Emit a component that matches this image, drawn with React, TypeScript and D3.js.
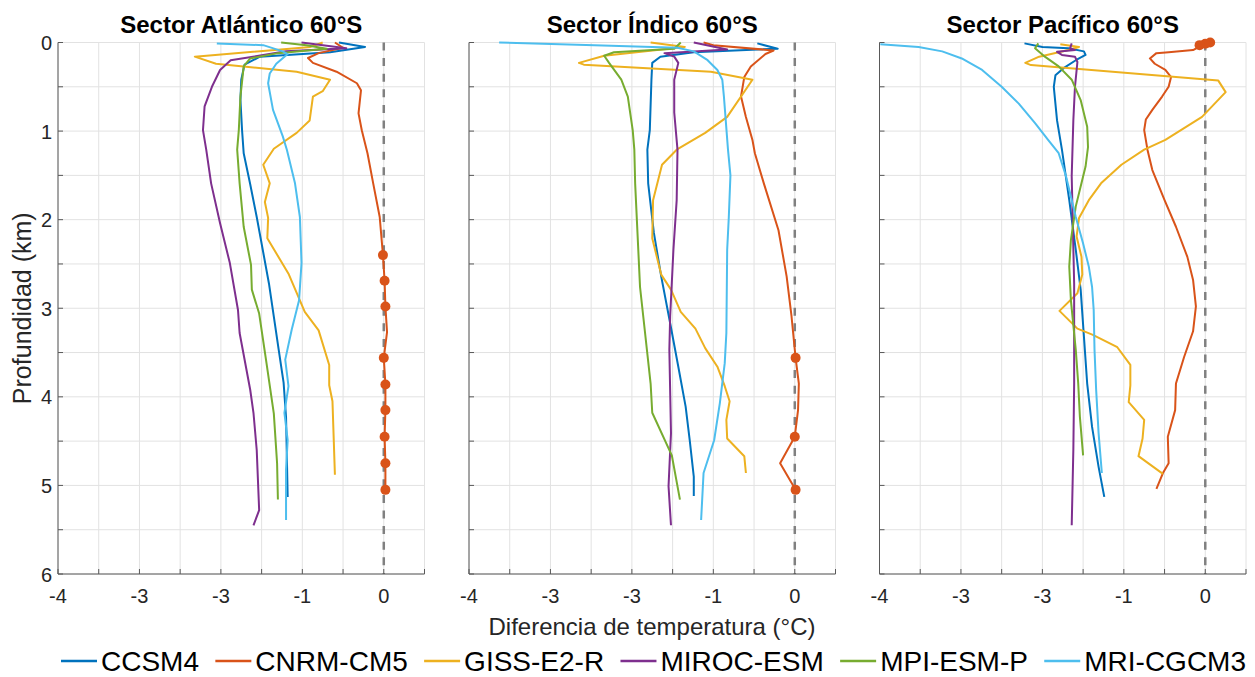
import { useEffect, useRef } from 'react';
import * as d3 from 'd3';

// [depth km, temperature difference °C]
type Pt = [number, number];

const modelNames = ['CCSM4', 'CNRM-CM5', 'GISS-E2-R', 'MIROC-ESM', 'MPI-ESM-P', 'MRI-CGCM3'];
const modelColors = ['#0072BD', '#D95319', '#EDB120', '#7E2F8E', '#77AC30', '#4DBEEE'];
const panelTitles = ['Sector Atlántico 60°S', 'Sector Índico 60°S', 'Sector Pacífico 60°S'];
const xTickValues = [-4, -3, -2, -1, 0];
const xTickLabels = ['-4', '-3', '-3', '-1', '0'];
const yTickValues = [0, 1, 2, 3, 4, 5, 6];

// Atlántico
const atlCCSM4: Pt[] = [[0, -0.55], [0.05, -0.23], [0.11, -0.66], [0.16, -1.52], [0.25, -1.71], [0.42, -1.75], [0.65, -1.76], [0.99, -1.74], [1.25, -1.72], [1.6, -1.64], [1.97, -1.56], [2.72, -1.41], [3.47, -1.29], [3.84, -1.23], [4.23, -1.2], [5.13, -1.18]];
const atlCNRM: Pt[] = [[0, -0.6], [0.06, -0.5], [0.12, -0.8], [0.175, -0.93], [0.23, -0.87], [0.33, -0.58], [0.46, -0.33], [0.54, -0.28], [0.8, -0.31], [0.99, -0.27], [1.25, -0.2], [1.59, -0.13], [1.97, -0.05], [2.4, -0.01], [2.69, 0.01], [2.98, 0.02], [3.27, 0.04], [3.56, 0.0], [3.86, 0.02], [4.15, 0.02], [4.45, 0.01], [4.75, 0.02], [5.05, 0.02]];
const atlGISS: Pt[] = [[0, -0.75], [0.05, -0.9], [0.16, -2.32], [0.24, -2.06], [0.33, -1.07], [0.42, -0.66], [0.55, -0.75], [0.61, -0.87], [0.88, -0.91], [1.02, -1.07], [1.2, -1.35], [1.38, -1.48], [1.59, -1.4], [1.8, -1.46], [1.98, -1.42], [2.21, -1.43], [2.61, -1.17], [3.04, -0.97], [3.25, -0.8], [3.64, -0.67], [3.87, -0.67], [4.05, -0.63], [4.88, -0.6]];
const atlMIROC: Pt[] = [[0, -1.01], [0.065, -0.46], [0.1, -1.2], [0.2, -1.88], [0.31, -2.01], [0.5, -2.11], [0.72, -2.2], [0.99, -2.22], [1.21, -2.18], [1.59, -2.12], [2.04, -2.01], [2.49, -1.89], [3.02, -1.79], [3.28, -1.77], [3.92, -1.64], [4.18, -1.6], [4.6, -1.56], [5.28, -1.53], [5.45, -1.6]];
const atlMPI: Pt[] = [[0, -1.26], [0.03, -0.95], [0.07, -0.7], [0.12, -1.3], [0.18, -1.64], [0.27, -1.72], [0.61, -1.76], [0.99, -1.78], [1.21, -1.8], [1.59, -1.77], [2.08, -1.72], [2.51, -1.63], [2.79, -1.62], [3.06, -1.53], [3.62, -1.44], [4.19, -1.35], [4.75, -1.31], [5.16, -1.3]];
const atlMRI: Pt[] = [[0.01, -2.05], [0.03, -1.48], [0.1, -1.24], [0.13, -1.18], [0.24, -1.32], [0.35, -1.4], [0.46, -1.42], [0.76, -1.36], [1.06, -1.24], [1.21, -1.19], [1.59, -1.09], [1.97, -1.03], [2.49, -1.01], [2.91, -1.04], [3.24, -1.13], [3.58, -1.21], [3.88, -1.17], [4.18, -1.22], [4.49, -1.18], [4.82, -1.2], [5.39, -1.2]];
const atlMarkers: Pt[] = [[2.4, -0.01], [2.69, 0.01], [2.98, 0.02], [3.56, 0.0], [3.86, 0.02], [4.15, 0.02], [4.45, 0.01], [4.75, 0.02], [5.05, 0.02]];

// Índico
const indCCSM4: Pt[] = [[0.01, -0.46], [0.07, -0.21], [0.11, -1.24], [0.16, -1.65], [0.23, -1.75], [0.42, -1.76], [0.99, -1.78], [1.21, -1.81], [1.59, -1.8], [2.15, -1.73], [2.64, -1.64], [3.17, -1.53], [3.66, -1.43], [4.11, -1.34], [4.49, -1.29], [4.9, -1.24], [5.12, -1.24]];
const indCNRM: Pt[] = [[0, -1.12], [0.03, -1.0], [0.09, -0.26], [0.13, -0.36], [0.27, -0.54], [0.39, -0.62], [0.61, -0.66], [0.84, -0.6], [1.1, -0.52], [1.25, -0.49], [1.59, -0.38], [2.12, -0.2], [2.64, -0.1], [3.09, -0.04], [3.56, 0.01], [3.85, 0.05], [4.15, 0.04], [4.45, 0.0], [4.75, -0.18], [5.05, 0.01]];
const indGISS: Pt[] = [[0, -1.77], [0.05, -1.35], [0.15, -2.34], [0.23, -2.65], [0.25, -2.59], [0.33, -1.03], [0.42, -0.52], [0.84, -0.83], [1.02, -1.1], [1.21, -1.45], [1.38, -1.63], [1.78, -1.74], [2.21, -1.75], [2.62, -1.64], [2.79, -1.52], [3.04, -1.4], [3.23, -1.22], [3.45, -1.1], [3.66, -0.95], [3.88, -0.86], [4.05, -0.8], [4.26, -0.84], [4.47, -0.83], [4.67, -0.62], [4.86, -0.6]];
const indMIROC: Pt[] = [[0, -1.24], [0.08, -0.83], [0.12, -1.6], [0.16, -1.48], [0.23, -1.43], [0.42, -1.48], [0.79, -1.48], [1.21, -1.44], [1.78, -1.45], [2.34, -1.49], [3.09, -1.53], [3.47, -1.54], [4.41, -1.52], [5.01, -1.55], [5.45, -1.52]];
const indMPI: Pt[] = [[0, -1.4], [0.07, -1.48], [0.11, -2.22], [0.15, -2.34], [0.23, -2.28], [0.42, -2.13], [0.61, -2.05], [0.99, -1.99], [1.21, -1.97], [1.59, -1.96], [2.76, -1.9], [3.85, -1.77], [4.18, -1.75], [4.66, -1.51], [5.16, -1.41]];
const indMRI: Pt[] = [[0, -3.63], [0.03, -2.46], [0.06, -1.44], [0.1, -1.24], [0.2, -1.07], [0.31, -0.95], [0.42, -0.89], [0.61, -0.87], [1.21, -0.82], [1.5, -0.79], [1.97, -0.81], [2.34, -0.83], [3.28, -0.84], [3.62, -0.86], [4.07, -0.92], [4.49, -0.99], [4.86, -1.12], [5.39, -1.15]];
const indMarkers: Pt[] = [[3.56, 0.01], [4.45, 0.0], [5.05, 0.01]];

// Pacífico
const pacCCSM4: Pt[] = [[0.01, -2.22], [0.05, -2.0], [0.065, -1.68], [0.1, -1.49], [0.14, -1.47], [0.2, -1.59], [0.29, -1.74], [0.37, -1.84], [0.5, -1.86], [0.88, -1.82], [1.21, -1.76], [1.78, -1.67], [2.34, -1.59], [2.79, -1.53], [3.32, -1.49], [3.85, -1.45], [4.34, -1.39], [4.79, -1.31], [5.13, -1.24]];
const pacCNRM: Pt[] = [[0, 0.06], [0.015, 0.0], [0.03, -0.07], [0.06, -0.1], [0.085, -0.15], [0.11, -0.45], [0.12, -0.6], [0.18, -0.68], [0.24, -0.62], [0.31, -0.49], [0.39, -0.42], [0.5, -0.45], [0.61, -0.53], [0.76, -0.65], [0.87, -0.73], [0.99, -0.75], [1.21, -0.71], [1.44, -0.65], [1.78, -0.5], [2.08, -0.36], [2.42, -0.22], [2.68, -0.15], [2.98, -0.115], [3.26, -0.15], [3.55, -0.26], [3.85, -0.36], [4.15, -0.37], [4.45, -0.46], [4.75, -0.45], [4.86, -0.52], [5.04, -0.6]];
const pacGISS: Pt[] = [[0.02, -1.78], [0.05, -1.55], [0.085, -1.68], [0.16, -2.04], [0.23, -2.21], [0.255, -2.14], [0.43, 0.16], [0.56, 0.25], [0.84, -0.04], [1.1, -0.49], [1.21, -0.75], [1.38, -1.03], [1.59, -1.28], [1.78, -1.43], [1.98, -1.55], [2.19, -1.58], [2.42, -1.52], [2.62, -1.51], [2.83, -1.57], [3.03, -1.79], [3.23, -1.57], [3.3, -1.38], [3.44, -1.08], [3.64, -0.92], [3.87, -0.92], [4.06, -0.94], [4.26, -0.75], [4.47, -0.77], [4.67, -0.82], [4.87, -0.52]];
const pacMIROC: Pt[] = [[0.01, -1.64], [0.065, -1.66], [0.085, -1.6], [0.105, -1.82], [0.14, -1.76], [0.16, -1.6], [0.22, -1.57], [0.5, -1.6], [0.88, -1.62], [1.51, -1.64], [2.72, -1.61], [3.85, -1.61], [4.6, -1.62], [5.45, -1.64]];
const pacMPI: Pt[] = [[0.01, -2.05], [0.065, -2.09], [0.16, -1.97], [0.27, -1.8], [0.42, -1.64], [0.65, -1.53], [0.95, -1.45], [1.18, -1.44], [1.4, -1.47], [1.55, -1.51], [1.85, -1.59], [2.23, -1.65], [2.53, -1.67], [2.91, -1.65], [3.47, -1.59], [3.85, -1.56], [4.22, -1.54], [4.66, -1.5]];
const pacMRI: Pt[] = [[0.02, -3.99], [0.05, -3.52], [0.1, -3.23], [0.18, -2.99], [0.31, -2.74], [0.5, -2.5], [0.69, -2.29], [0.91, -2.09], [1.1, -1.93], [1.25, -1.8], [1.51, -1.71], [1.97, -1.59], [2.27, -1.5], [2.53, -1.43], [2.76, -1.39], [3.02, -1.37], [3.47, -1.36], [3.92, -1.34], [4.41, -1.31], [4.86, -1.27]];
const pacMarkers: Pt[] = [[0, 0.06], [0.015, 0.0], [0.03, -0.07]];

const panelSeries = [
  [atlCCSM4, atlCNRM, atlGISS, atlMIROC, atlMPI, atlMRI],
  [indCCSM4, indCNRM, indGISS, indMIROC, indMPI, indMRI],
  [pacCCSM4, pacCNRM, pacGISS, pacMIROC, pacMPI, pacMRI],
];
const panelMarkers = [atlMarkers, indMarkers, pacMarkers];

const [width, height] = [1255, 677];
const panelLefts = [58, 469, 879.5];
const panelW = 366.5;
const [top, bottom] = [42.5, 574];
const font = '"Liberation Sans", Arial, Helvetica, sans-serif';

function App() {
  const node = useRef<SVGSVGElement>(null);
  useEffect(() => {
    if (!node.current) return;
    const svg = d3.select(node.current);
    svg.selectAll('*').remove();

    const y = d3.scaleLinear().domain([0, 6]).range([top, bottom]);

    panelTitles.forEach((title, p) => {
      const x = d3.scaleLinear().domain([-4, 0.5]).range([panelLefts[p], panelLefts[p] + panelW]);
      const g = svg.append('g');

      // grid
      const gx = d3.range(-4, 0.51, 0.5);
      const gy = d3.range(0, 6.01, 0.5);
      g.selectAll('line.gx').data(gx).enter().append('line')
        .attr('x1', d => x(d)).attr('x2', d => x(d)).attr('y1', top).attr('y2', bottom)
        .attr('stroke', '#e2e2e2').attr('stroke-width', 1);
      g.selectAll('line.gy').data(gy).enter().append('line')
        .attr('x1', x(-4)).attr('x2', x(0.5)).attr('y1', d => y(d)).attr('y2', d => y(d))
        .attr('stroke', '#e2e2e2').attr('stroke-width', 1);

      // zero line
      g.append('line')
        .attr('x1', x(0)).attr('x2', x(0)).attr('y1', top).attr('y2', bottom)
        .attr('stroke', '#808080').attr('stroke-width', 2.5).attr('stroke-dasharray', '8,7.6');

      // axes
      g.append('line').attr('x1', x(-4)).attr('x2', x(-4)).attr('y1', top).attr('y2', bottom)
        .attr('stroke', '#595959').attr('stroke-width', 1);
      g.append('line').attr('x1', x(-4)).attr('x2', x(0.5)).attr('y1', bottom).attr('y2', bottom)
        .attr('stroke', '#595959').attr('stroke-width', 1);
      g.selectAll('line.ty').data(gy).enter().append('line')
        .attr('x1', x(-4)).attr('x2', x(-4) + 5).attr('y1', d => y(d)).attr('y2', d => y(d))
        .attr('stroke', '#595959');
      g.selectAll('line.tx').data(gx).enter().append('line')
        .attr('x1', d => x(d)).attr('x2', d => x(d)).attr('y1', bottom).attr('y2', bottom - 5)
        .attr('stroke', '#595959');

      // tick labels
      g.selectAll('text.xl').data(xTickValues).enter().append('text')
        .attr('x', d => x(d)).attr('y', 603).attr('text-anchor', 'middle')
        .attr('font-family', font).attr('font-size', 20).attr('fill', '#262626')
        .text((_, i) => xTickLabels[i]);
      if (p === 0) {
        g.selectAll('text.yl').data(yTickValues).enter().append('text')
          .attr('x', 52).attr('y', d => y(d) + 7.5).attr('text-anchor', 'end')
          .attr('font-family', font).attr('font-size', 20).attr('fill', '#262626')
          .text(d => String(d));
      }

      // series
      const line = d3.line<Pt>().x(d => x(d[1])).y(d => y(d[0]));
      panelSeries[p].forEach((s, i) => {
        g.append('path').datum(s).attr('d', line)
          .attr('fill', 'none').attr('stroke', modelColors[i]).attr('stroke-width', 2)
          .attr('stroke-linejoin', 'round');
      });
      g.selectAll('circle').data(panelMarkers[p]).enter().append('circle')
        .attr('cx', d => x(d[1])).attr('cy', d => y(d[0])).attr('r', 5)
        .attr('fill', modelColors[1]);

      // title
      g.append('text').attr('x', panelLefts[p] + panelW / 2).attr('y', 33)
        .attr('text-anchor', 'middle').attr('font-family', font).attr('font-size', 24)
        .attr('font-weight', 'bold').attr('fill', '#000').text(title);
    });

    // axis labels
    svg.append('text').attr('transform', `translate(31,${(top + bottom) / 2}) rotate(-90)`)
      .attr('text-anchor', 'middle').attr('font-family', font).attr('font-size', 25)
      .attr('fill', '#262626').text('Profundidad (km)');
    svg.append('text').attr('x', 652).attr('y', 635).attr('text-anchor', 'middle')
      .attr('font-family', font).attr('font-size', 24).attr('fill', '#262626')
      .text('Diferencia de temperatura (°C)');

    // legend, spread over the same span as the reference
    const leg = svg.append('g');
    const items = modelNames.map((name, i) => {
      const it = leg.append('g');
      it.append('line').attr('x1', 0).attr('x2', 36).attr('y1', 661).attr('y2', 661)
        .attr('stroke', modelColors[i]).attr('stroke-width', 2.5);
      const t = it.append('text').attr('x', 40).attr('y', 670.5)
        .attr('font-family', font).attr('font-size', 28).attr('fill', '#000').text(name);
      const w = (t.node() as SVGTextElement).getComputedTextLength();
      return { it, w: 40 + w };
    });
    const [legL, legR] = [61, 1246];
    const gap = (legR - legL - d3.sum(items, d => d.w)) / (items.length - 1);
    let cur = legL;
    items.forEach(d => {
      d.it.attr('transform', `translate(${cur},0)`);
      cur += d.w + gap;
    });
  }, [node]);

  return (
    <svg ref={node} width={width} height={height}
      style={{ position: 'absolute', left: 0, top: 0, background: '#fff' }} />
  );
}

export default App;
